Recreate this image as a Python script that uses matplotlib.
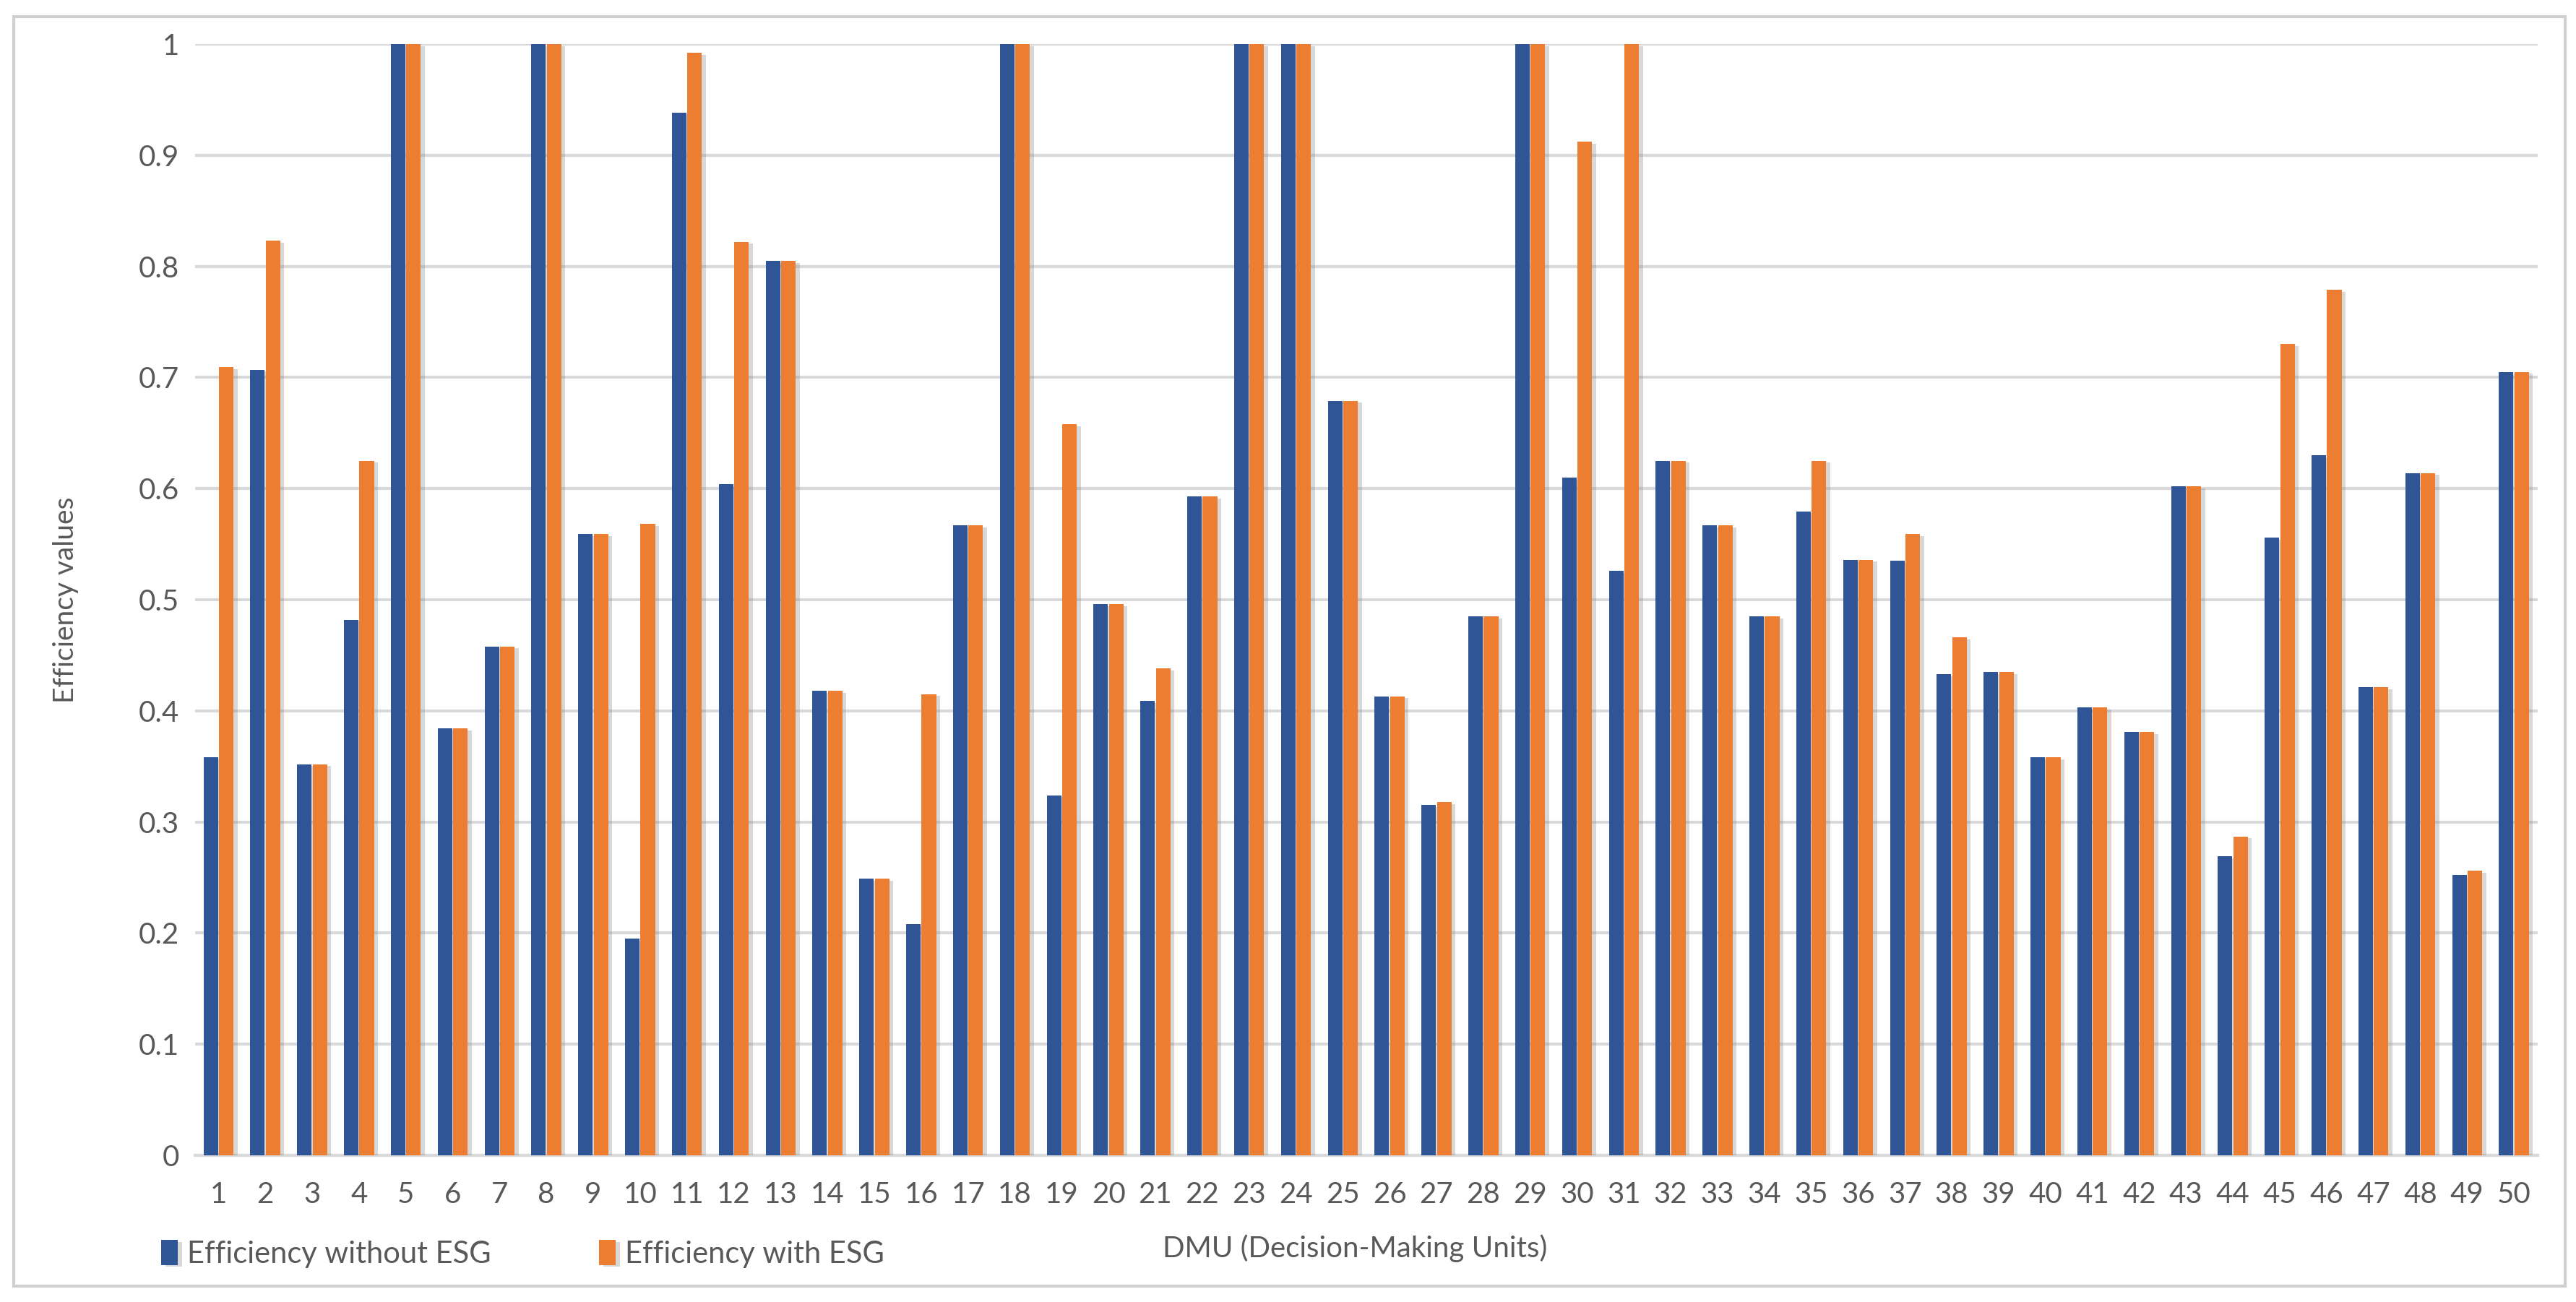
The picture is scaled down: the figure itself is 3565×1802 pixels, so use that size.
import matplotlib
matplotlib.use("Agg")
import matplotlib.pyplot as plt
import matplotlib.patheffects as pe
from matplotlib.patches import Rectangle
import numpy as np

plt.rcParams['font.family'] = ['Lato', 'DejaVu Sans']

# DMU numbers and efficiency scores
dmu = list(range(1, 51))
eff_without_esg = [0.358, 0.707, 0.352, 0.482, 1.000, 0.384, 0.458, 1.000, 0.559, 0.195,
                   0.938, 0.604, 0.805, 0.418, 0.249, 0.208, 0.567, 1.000, 0.324, 0.496,
                   0.409, 0.593, 1.000, 1.000, 0.679, 0.413, 0.315, 0.485, 1.000, 0.610,
                   0.526, 0.625, 0.567, 0.485, 0.579, 0.536, 0.535, 0.433, 0.435, 0.358,
                   0.403, 0.381, 0.602, 0.269, 0.556, 0.630, 0.421, 0.614, 0.252, 0.705]
eff_with_esg = [0.709, 0.823, 0.352, 0.625, 1.000, 0.384, 0.458, 1.000, 0.559, 0.568,
                0.992, 0.822, 0.805, 0.418, 0.249, 0.415, 0.567, 1.000, 0.658, 0.496,
                0.438, 0.593, 1.000, 1.000, 0.679, 0.413, 0.318, 0.485, 1.000, 0.912,
                1.000, 0.625, 0.567, 0.485, 0.625, 0.536, 0.559, 0.466, 0.435, 0.358,
                0.403, 0.381, 0.602, 0.287, 0.730, 0.779, 0.421, 0.614, 0.256, 0.705]
y_ticks = [0, 0.1, 0.2, 0.3, 0.4, 0.5, 0.6, 0.7, 0.8, 0.9, 1]
y_tick_labels = ['0', '0.1', '0.2', '0.3', '0.4', '0.5', '0.6', '0.7', '0.8', '0.9', '1']

blue = '#2F5597'
orange = '#ED7D31'
text_col = '#595959'

fig = plt.figure(figsize=(17.825, 9.01), dpi=200)
ax = fig.add_axes([0.0757, 0.1127, 0.9093, 0.8535])

# light frame around the whole chart, like the Excel chart area
fig.patches.append(Rectangle((0.0053, 0.0122), 0.9905, 0.975, transform=fig.transFigure,
                             fill=False, edgecolor='#D0D0D0', linewidth=1.5))

x = np.array(dmu)
w = 0.31
shadow = [pe.SimplePatchShadow(offset=(2.0, -1.0), shadow_rgbFace='#909090', alpha=0.35), pe.Normal()]
b1 = ax.bar(x - 0.165, eff_without_esg, w, color=blue, label='Efficiency without ESG', zorder=3)
b2 = ax.bar(x + 0.165, eff_with_esg, w, color=orange, label='Efficiency with ESG', zorder=3)
for b in list(b1) + list(b2):
    b.set_path_effects(shadow)

ax.set_xlim(0.5, 50.5)
ax.set_ylim(0, 1)
ax.set_xticks(x)
ax.set_xticklabels([str(d) for d in dmu])
ax.set_yticks(y_ticks)
ax.set_yticklabels(y_tick_labels)
ax.yaxis.grid(True, color='#D9D9D9', linewidth=1.5, zorder=0)
ax.set_axisbelow(True)
for s in ['top', 'right', 'left']:
    ax.spines[s].set_visible(False)
ax.spines['bottom'].set_color('#D9D9D9')
ax.spines['bottom'].set_linewidth(1.5)
ax.tick_params(axis='both', length=0, labelsize=14.5, colors=text_col)
ax.tick_params(axis='x', pad=13)
ax.tick_params(axis='y', pad=8)

fig.text(0.0255, 0.539, 'Efficiency values', rotation=90, ha='center', va='center',
         fontsize=14, color=text_col)
fig.text(0.526, 0.041, 'DMU (Decision-Making Units)', ha='center', va='center',
         fontsize=14.5, color=text_col)

leg = fig.legend(handles=[b1, b2], loc='center left', bbox_to_anchor=(0.058, 0.037),
                 ncol=2, frameon=False, fontsize=15, handlelength=0.55, handleheight=0.9,
                 handletextpad=0.3, columnspacing=3.6, borderaxespad=0)
for t in leg.get_texts():
    t.set_color(text_col)

plt.savefig('out.png', dpi=200)
